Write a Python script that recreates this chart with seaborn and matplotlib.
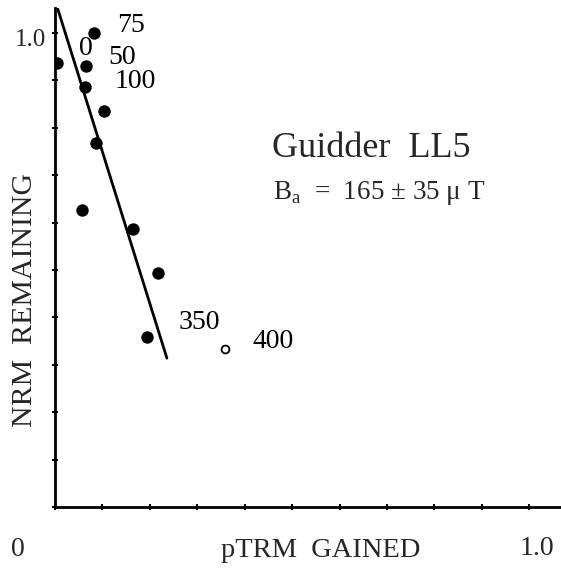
import matplotlib
matplotlib.use("Agg")
import matplotlib.pyplot as plt
import seaborn as sns
import pandas as pd
import numpy as np

# data
ptrm_filled = [0.004, 0.065, 0.082, 0.063, 0.103, 0.086, 0.057, 0.165, 0.217, 0.194]
nrm_filled = [0.937, 0.930, 1.000, 0.886, 0.835, 0.768, 0.627, 0.586, 0.494, 0.359]
ptrm_open = [0.359]
nrm_open = [0.333]
fit_x = [0.006, 0.236]
fit_y = [1.05, 0.314]
step_labels = ["75", "0", "50", "100", "350", "400"]
label_x = [0.160, 0.065, 0.141, 0.169, 0.304, 0.460]
label_y = [1.015, 0.968, 0.947, 0.897, 0.390, 0.348]

sns.set_theme(style="white")
plt.rcParams['font.family'] = ['Liberation Serif', 'DejaVu Serif']

fig = plt.figure(figsize=(5.61, 5.70), dpi=100)
ax = fig.add_axes([0.098, 0.1105, 0.902, 0.876])

df_f = pd.DataFrame({"x": ptrm_filled, "y": nrm_filled})
df_o = pd.DataFrame({"x": ptrm_open, "y": nrm_open})
sns.scatterplot(data=df_f, x="x", y="y", ax=ax, color="black", s=80,
                edgecolor="black", linewidth=0, zorder=3)
sns.scatterplot(data=df_o, x="x", y="y", ax=ax, facecolor="white", s=32,
                edgecolor="black", linewidth=1.3, zorder=3)
sns.lineplot(x=fit_x, y=fit_y, ax=ax, color="black", linewidth=2)

for t, x, y in zip(step_labels, label_x, label_y):
    ax.text(x, y, t, fontsize=20, ha="center", va="center", color="black")

ax.set_xlim(0, 1.067)
ax.set_ylim(0, 1.053)
ax.set_xticks(np.arange(0, 1.01, 0.1))
ax.set_yticks(np.arange(0, 1.01, 0.1))
ax.set_xticklabels([])
ax.set_yticklabels([])
ax.tick_params(axis="both", direction="inout", length=5, width=1.5,
               color="black", bottom=True, left=True)
for s in ["top", "right"]:
    ax.spines[s].set_visible(False)
for s in ["left", "bottom"]:
    ax.spines[s].set_visible(True)
    ax.spines[s].set_color("black")
    ax.spines[s].set_linewidth(2)
ax.set_xlabel("")
ax.set_ylabel("")

fig.text(0.572, 0.035, "pTRM  GAINED", fontsize=20.5, ha="center", va="center")
fig.text(0.031, 0.036, "0", fontsize=20, ha="center", va="center")
fig.text(0.957, 0.037, "1.0", fontsize=20, ha="center", va="center")
fig.text(0.054, 0.930, "1.0", fontsize=18, ha="center", va="center")
fig.text(0.044, 0.474, "NRM  REMAINING", fontsize=21.5, ha="center", va="center",
         rotation=90)
fig.text(0.662, 0.740, "Guidder  LL5", fontsize=26, ha="center", va="center")
fig.text(0.486, 0.662, r"B$_\mathregular{a}$  =  165 ± 35 μ T", fontsize=19.5,
         ha="left", va="center")

fig.savefig("out.png", dpi=100)
